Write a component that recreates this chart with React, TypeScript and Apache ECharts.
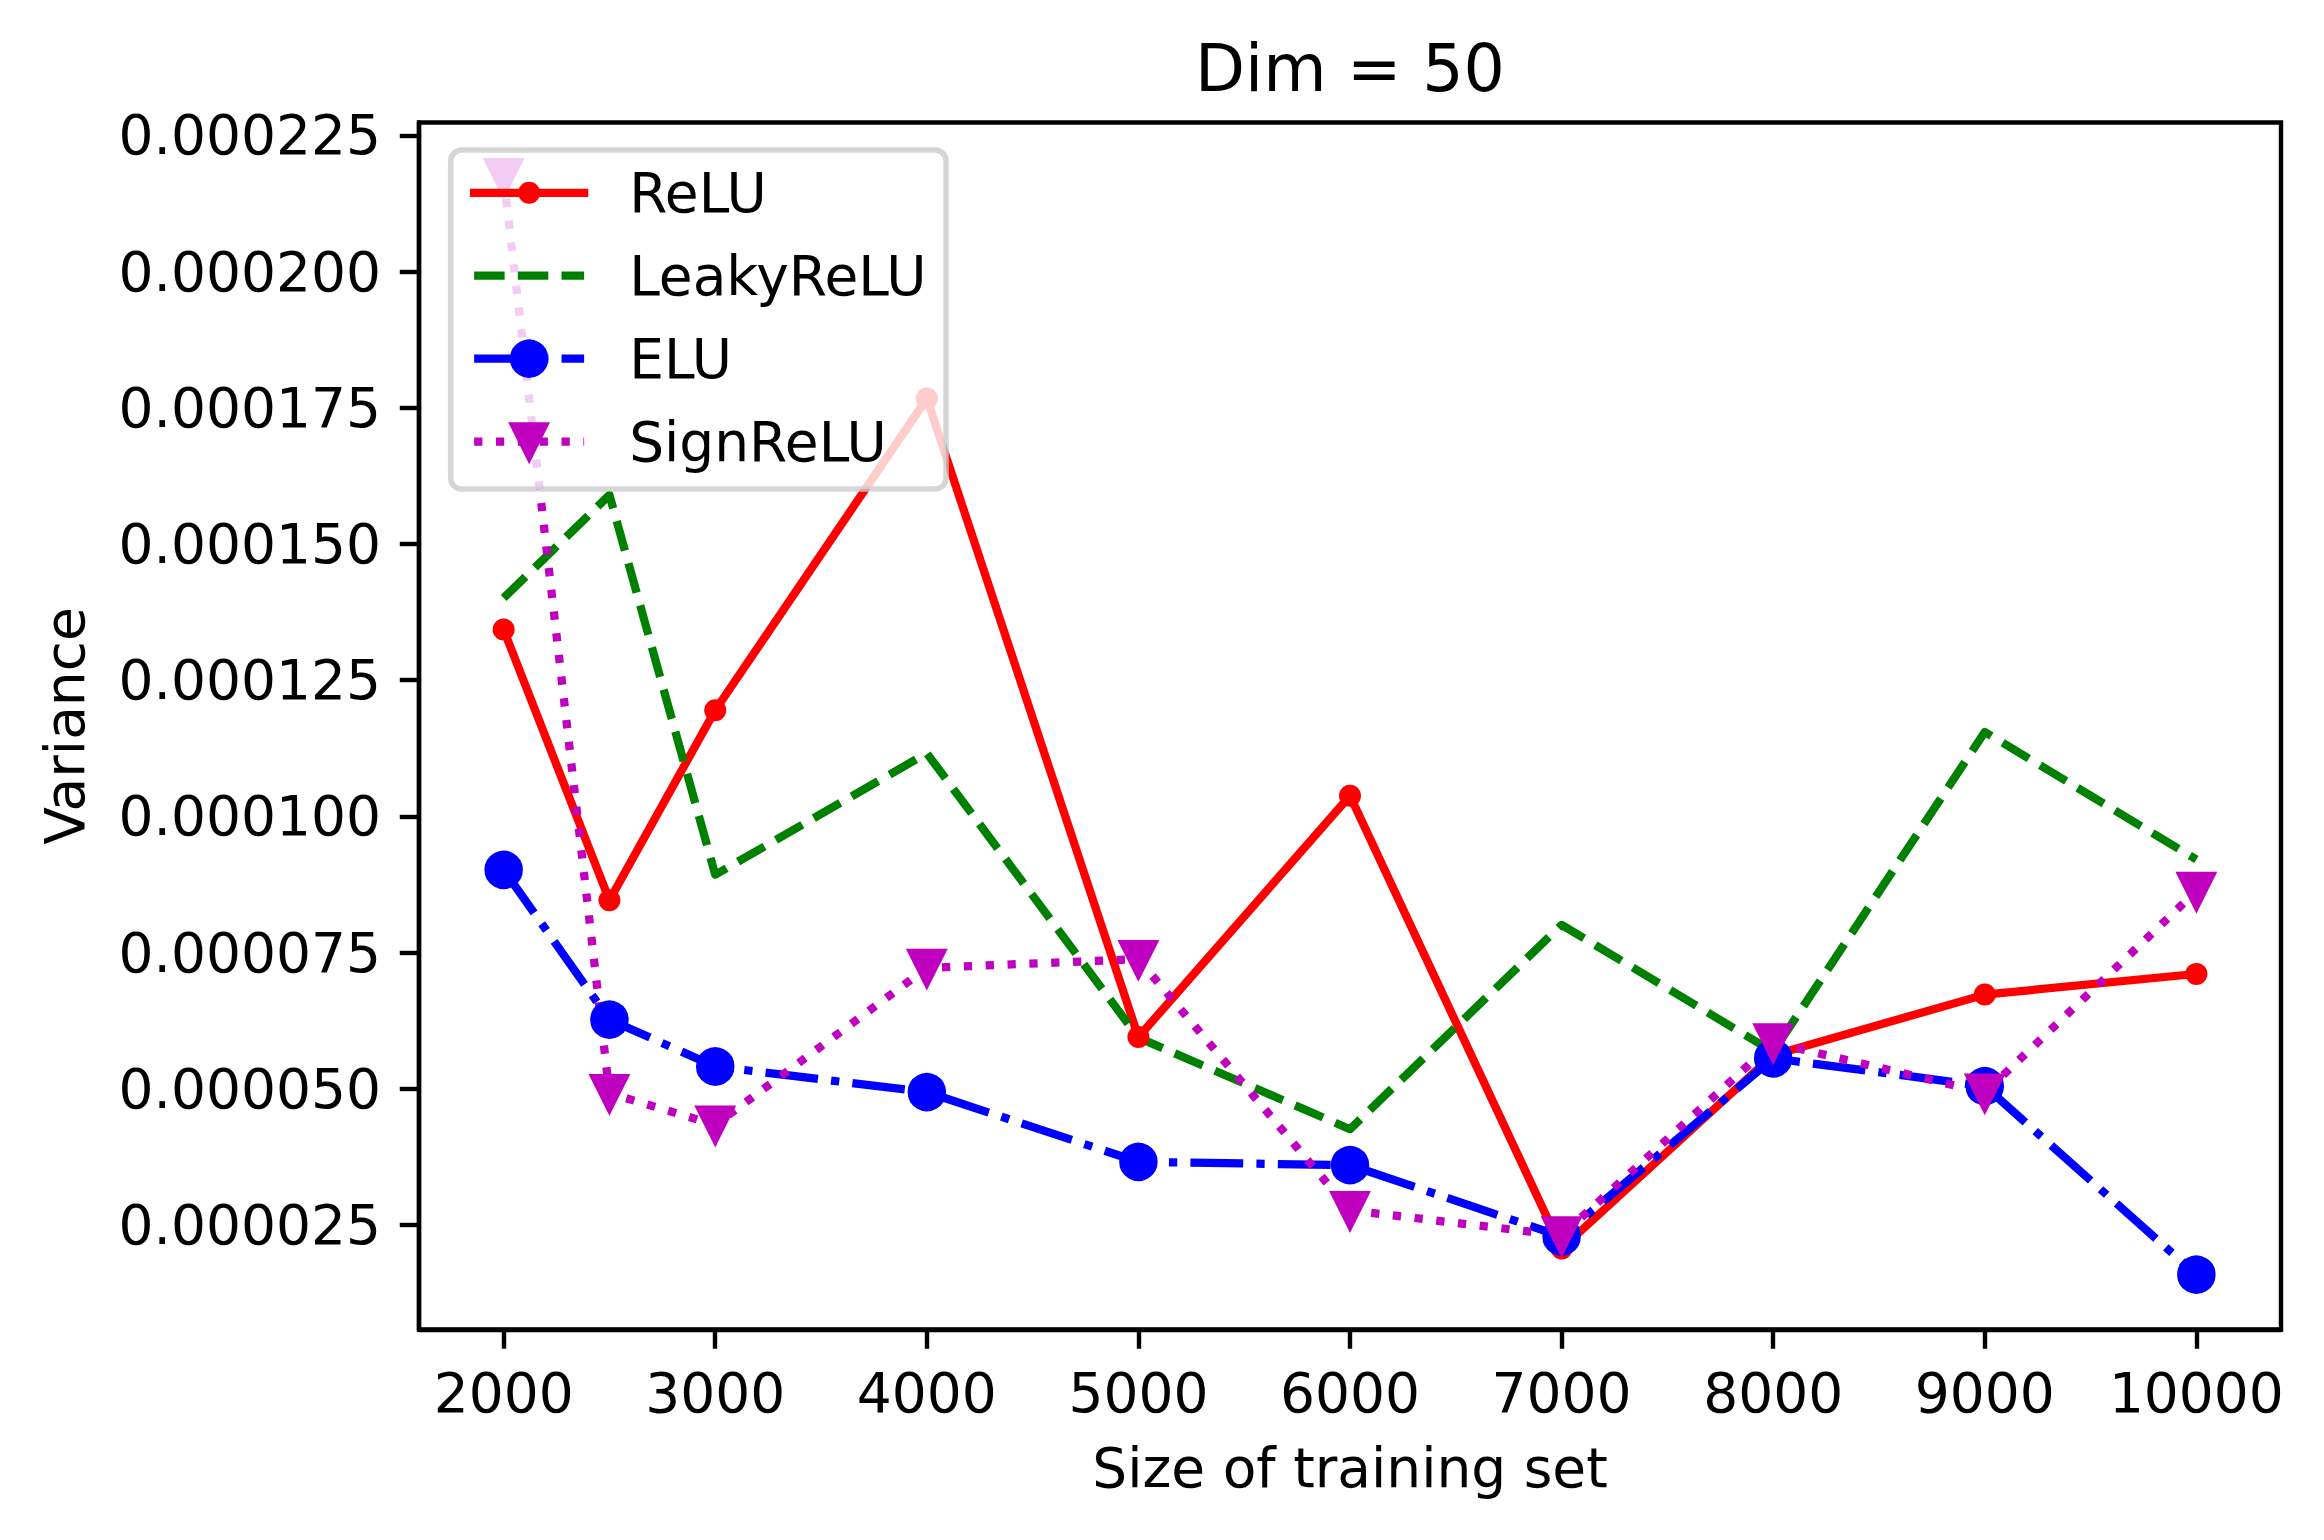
import React, { useEffect, useRef } from "react";
import * as echarts from "echarts";

// ---- data ----
const sizes = [2000, 2500, 3000, 4000, 5000, 6000, 7000, 8000, 9000, 10000];
const relu = [0.0001343, 0.0000846, 0.0001195, 0.0001767, 0.0000595, 0.0001038, 0.0000207, 0.0000562, 0.0000673, 0.0000711];
const leakyRelu = [0.0001401, 0.000159, 0.0000893, 0.0001116, 0.0000594, 0.0000426, 0.0000801, 0.0000568, 0.0001155, 0.0000921];
const elu = [0.0000902, 0.0000627, 0.0000541, 0.0000494, 0.0000366, 0.000036, 0.0000229, 0.0000556, 0.0000505, 0.0000159];
const signRelu = [0.0002173, 0.0000492, 0.0000434, 0.0000722, 0.0000738, 0.0000277, 0.0000231, 0.0000585, 0.0000493, 0.0000863];
const seriesNames = ["ReLU", "LeakyReLU", "ELU", "SignReLU"];
const xTicks = [2000, 3000, 4000, 5000, 6000, 7000, 8000, 9000, 10000];
const yTicks = [0.000025, 0.00005, 0.000075, 0.0001, 0.000125, 0.00015, 0.000175, 0.0002, 0.000225];
const titleText = "Dim = 50";
const xName = "Size of training set";
const yName = "Variance";

const FONT = "DejaVu Sans";
const LW = 8.25;
const EDGE = 5.5;
const MS = 33;
// small filled dot inside a square box (matplotlib '.')
const DOT = "path://M0 0M100 100M50 16.7A33.3 33.3 0 1 1 50 83.3A33.3 33.3 0 1 1 50 16.7Z";

function pad(min: number, max: number) {
  const r = max - min;
  return [min - 0.05 * r, max + 0.05 * r];
}

export default function App() {
  const ref = useRef<HTMLDivElement>(null);
  useEffect(() => {
    document.body.style.margin = "0";
    const chart = echarts.init(ref.current!, null, { renderer: "svg", width: 2324, height: 1540 });
    const allY = [...relu, ...leakyRelu, ...elu, ...signRelu];
    const [yMin, yMax] = pad(Math.min(...allY), Math.max(...allY));
    const [xMin, xMax] = pad(Math.min(...sizes), Math.max(...sizes));
    const pts = (arr: number[]) => sizes.map((x, i) => [x, arr[i]]);
    const textBase = { fontFamily: FONT, color: "#000", fontSize: 55, lineHeight: 55 };

    const common = {
      type: "line",
      silent: true,
      animation: false,
      emphasis: { disabled: true },
      z: 2,
    };

    chart.setOption({
      animation: false,
      backgroundColor: "#ffffff",
      title: {
        text: titleText,
        left: 1350,
        top: 36,
        textAlign: "center",
        padding: 0,
        textStyle: { fontFamily: FONT, color: "#000", fontSize: 65, lineHeight: 65, fontWeight: "normal" },
      },
      grid: {
        left: 419,
        right: 43,
        top: 122.5,
        bottom: 210.5,
        show: true,
        borderColor: "#000",
        borderWidth: 4.4,
        backgroundColor: "transparent",
      },
      legend: {
        data: [
          { name: seriesNames[0], itemStyle: { borderWidth: 0 } },
          { name: seriesNames[1], itemStyle: { color: "rgba(0,0,0,0)", borderWidth: 0 } },
          { name: seriesNames[2], itemStyle: { borderWidth: EDGE } },
          { name: seriesNames[3], itemStyle: { borderWidth: EDGE } },
        ],
        orient: "vertical",
        left: 450.7,
        top: 150,
        itemWidth: 110,
        itemHeight: 41.25,
        itemGap: 21.9,
        padding: [12.3, 19.5, 17.1, 19.3],
        backgroundColor: "rgba(255,255,255,0.8)",
        borderColor: "rgba(204,204,204,0.8)",
        borderWidth: 5.5,
        borderRadius: 11,
        selectedMode: false,
        lineStyle: { width: LW },
        textStyle: { ...textBase, padding: [6, 0, 0, 40] },
        z: 4,
      },
      xAxis: {
        type: "value",
        min: xMin,
        max: xMax,
        name: xName,
        nameLocation: "middle",
        nameGap: 111,
        nameTextStyle: { ...textBase },
        axisLine: { show: true, onZero: false, lineStyle: { color: "#000", width: 4.4 } },
        axisTick: { show: true, customValues: xTicks, length: 19.25, lineStyle: { color: "#000", width: 4.4 } },
        axisLabel: { customValues: xTicks, margin: 36, ...textBase, formatter: (v: number) => String(Math.round(v)) },
        splitLine: { show: false },
      },
      yAxis: {
        type: "value",
        min: yMin,
        max: yMax,
        name: yName,
        nameLocation: "middle",
        nameGap: 327,
        nameTextStyle: { ...textBase },
        axisLine: { show: true, onZero: false, lineStyle: { color: "#000", width: 4.4 } },
        axisTick: { show: true, customValues: yTicks, length: 19.25, lineStyle: { color: "#000", width: 4.4 } },
        axisLabel: {
          customValues: yTicks,
          margin: 38,
          ...textBase,
          formatter: (v: number) => v.toFixed(6),
        },
        splitLine: { show: false },
      },
      series: [
        {
          ...common,
          name: seriesNames[0],
          data: pts(relu),
          symbol: DOT,
          symbolSize: MS,
          itemStyle: { color: "#ff0000", borderColor: "#ff0000", borderWidth: 0 },
          lineStyle: { color: "#ff0000", width: LW, type: "solid", cap: "square", join: "round" },
        },
        {
          ...common,
          name: seriesNames[1],
          data: pts(leakyRelu),
          symbol: "none",
          itemStyle: { color: "#008000" },
          lineStyle: { color: "#008000", width: LW, type: [30.5, 13.2], cap: "butt", join: "round" },
        },
        {
          ...common,
          name: seriesNames[2],
          data: pts(elu),
          symbol: "circle",
          symbolSize: MS,
          itemStyle: { color: "#0000ff", borderColor: "#0000ff", borderWidth: EDGE },
          lineStyle: { color: "#0000ff", width: LW, type: [52.8, 13.2, 8.25, 13.2], cap: "butt", join: "round" },
        },
        {
          ...common,
          name: seriesNames[3],
          data: pts(signRelu),
          symbol: "triangle",
          symbolRotate: 180,
          symbolSize: MS,
          itemStyle: { color: "#bf00bf", borderColor: "#bf00bf", borderWidth: EDGE, borderJoin: "miter", borderMiterLimit: 10 },
          lineStyle: { color: "#bf00bf", width: LW, type: [8.25, 13.6], cap: "butt", join: "round" },
        },
      ],
    });
    return () => chart.dispose();
  }, []);
  return <div ref={ref} style={{ width: 2324, height: 1540 }} />;
}
